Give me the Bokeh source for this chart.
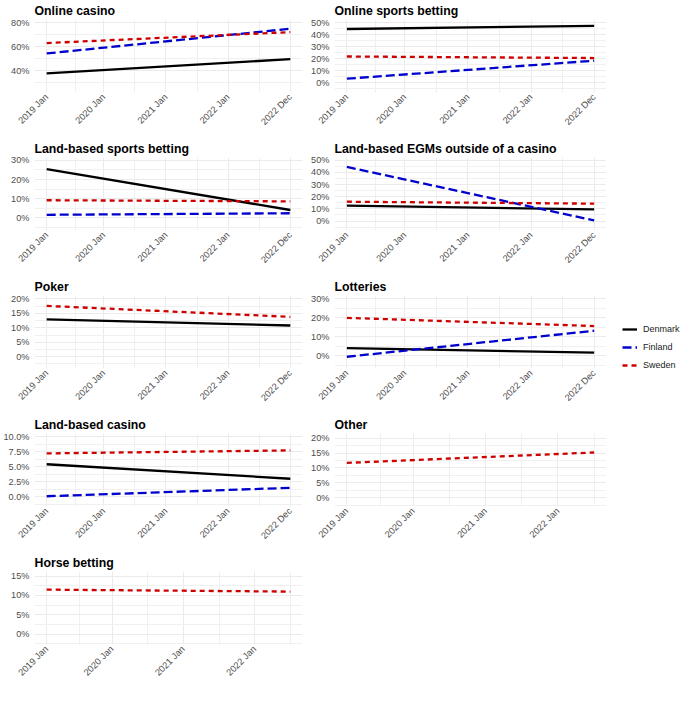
import math
from bokeh.plotting import figure
from bokeh.layouts import row, column
from bokeh.models import (FixedTicker, Range1d, Legend, LegendItem, Spacer,
                          CustomJSTickFormatter)
from bokeh.embed import file_html
from bokeh.resources import INLINE

# ---------------- data ----------------
categories = ["Online casino", "Online sports betting", "Land-based sports betting",
              "Land-based EGMs outside of a casino", "Poker", "Lotteries",
              "Land-based casino", "Other", "Horse betting"]
countries = ["Denmark", "Finland", "Sweden"]

# x positions in months counted from 2019 Jan
start_month = [0, 0, 0, 0, 0, 0, 0, 0, 0]
end_month = [47, 47, 47, 47, 47, 47, 47, 41, 41]
tick_months = [0, 11, 23, 35, 47]
tick_labels = ["2019 Jan", "2020 Jan", "2021 Jan", "2022 Jan", "2022 Dec"]
minor_tick_months = [5.5, 17, 29, 41]

# shares in percent (None = no series in that panel)
denmark_start = [37.9, 44.8, 25.4, 12.7, 12.9, 4.0, 5.4, None, None]
denmark_end = [49.7, 47.4, 4.1, 9.6, 10.8, 1.7, 3.0, None, None]
finland_start = [54.4, 3.4, 1.6, 44.5, None, -0.5, 0.1, None, None]
finland_end = [75.0, 18.4, 2.4, 0.5, None, 13.2, 1.5, None, None]
sweden_start = [63.1, 21.9, 9.2, 15.9, 17.6, 20.0, 7.2, 11.7, 11.5]
sweden_end = [72.2, 20.6, 8.6, 14.3, 13.8, 15.7, 7.7, 15.2, 11.0]

y_major_ticks = [[40, 60, 80], [0, 10, 20, 30, 40, 50], [0, 10, 20, 30],
                 [0, 10, 20, 30, 40, 50], [0, 5, 10, 15, 20], [0, 10, 20, 30],
                 [0, 2.5, 5, 7.5, 10], [0, 5, 10, 15, 20], [0, 5, 10, 15]]
y_tick_decimals = [0, 0, 0, 0, 0, 0, 1, 0, 0]
y_min = [21.9, -8.1, -6.6, -7.8, -4.1, -6.7, -1.6, -3.0, -2.7]
y_max = [82.7, 52.7, 31.5, 52.3, 21.2, 31.8, 10.5, 21.6, 16.2]

series = {
    "Denmark": (denmark_start, denmark_end),
    "Finland": (finland_start, finland_end),
    "Sweden": (sweden_start, sweden_end),
}

# ---------------- style ----------------
FONT = "Liberation Sans"
styles = {
    "Denmark": dict(line_color="black", line_dash="solid"),
    "Finland": dict(line_color="#0000CD", line_dash="9 4"),
    "Sweden": dict(line_color="#CD0000", line_dash="5 4"),
}
LW = 2.3
FRAME_W, FRAME_H, TOP_B = 272, 75, 17
LEFT_B_L, RIGHT_B_L, LEFT_B_R = 30, 3, 29


def minor_from(major, lo, hi):
    step = major[1] - major[0]
    out = [major[0] - step / 2] + [(a + b) / 2 for a, b in zip(major[:-1], major[1:])] + [major[-1] + step / 2]
    return [m for m in out if lo <= m <= hi]


def make_panel(i, left_b, right_b, bottom_b):
    x0, x1 = start_month[i], end_month[i]
    pad = 0.05 * (x1 - x0)
    p = figure(width=left_b + FRAME_W + right_b, height=TOP_B + FRAME_H + bottom_b,
               x_range=Range1d(x0 - pad, x1 + pad), y_range=Range1d(y_min[i], y_max[i]),
               output_backend="svg", toolbar_location=None, title=categories[i],
               min_border_left=left_b, min_border_right=right_b,
               min_border_top=TOP_B, min_border_bottom=bottom_b)
    p.background_fill_color = "white"
    p.border_fill_color = "white"
    p.outline_line_color = None
    p.title.text_font = FONT
    p.title.text_font_size = "12.3px"
    p.title.text_font_style = "bold"
    p.title.text_color = "black"
    p.title.align = "left"
    p.title.offset = 0
    p.title.standoff = 3

    xt = [t for t in tick_months if t <= x1]
    xl = {t: l for t, l in zip(tick_months, tick_labels) if t <= x1}
    p.xaxis.ticker = FixedTicker(ticks=xt, minor_ticks=[m for m in minor_tick_months if m <= x1 + pad])
    p.xaxis.major_label_overrides = xl
    p.xaxis.major_label_orientation = math.pi / 4

    yt = y_major_ticks[i]
    p.yaxis.ticker = FixedTicker(ticks=yt, minor_ticks=minor_from(yt, y_min[i], y_max[i]))
    p.yaxis.formatter = CustomJSTickFormatter(code="return tick.toFixed(%d) + '%%';" % y_tick_decimals[i])

    for ax in (p.xaxis[0], p.yaxis[0]):
        ax.axis_line_color = None
        ax.major_tick_line_color = None
        ax.minor_tick_line_color = None
        ax.major_tick_in = 0
        ax.major_tick_out = 0
        ax.minor_tick_in = 0
        ax.minor_tick_out = 0
        ax.major_label_text_font = FONT
        ax.major_label_text_font_size = "9.2px"
        ax.major_label_text_color = "#4D4D4D"
    p.yaxis.major_label_standoff = 5
    p.xaxis.major_label_standoff = 3

    for g in (p.xgrid[0], p.ygrid[0]):
        g.grid_line_color = "#EBEBEB"
        g.grid_line_width = 1
        g.minor_grid_line_color = "#F0F0F0"
        g.minor_grid_line_width = 1

    for c in countries:
        s, e = series[c]
        if s[i] is None:
            continue
        p.line(x=[x0, x1], y=[s[i], e[i]], line_width=LW, **styles[c])
    return p


panels = []
for i in range(len(categories)):
    left_col = (i % 2 == 0)
    bottom_b = 40 if i == 8 else 46
    if left_col:
        panels.append(make_panel(i, LEFT_B_L, RIGHT_B_L, bottom_b))
    else:
        panels.append(make_panel(i, LEFT_B_R, 0, bottom_b))

left_w = LEFT_B_L + FRAME_W + RIGHT_B_L
right_w = LEFT_B_R + FRAME_W + 0
total_h = 4 * (TOP_B + FRAME_H + 46) + (TOP_B + FRAME_H + 40)

# legend figure (its key lines lie outside its visible range; only the legend shows)
leg = figure(width=684 - left_w - right_w, height=total_h, x_range=Range1d(0, 1),
             y_range=Range1d(0, 1), output_backend="svg", toolbar_location=None,
             min_border=0, min_border_left=0, min_border_right=0,
             min_border_top=0, min_border_bottom=0)
leg.axis.visible = False
leg.grid.visible = False
leg.outline_line_color = None
leg.background_fill_color = "white"
leg.border_fill_color = "white"
items = []
for c in countries:
    r = leg.line(x=[5, 6], y=[5, 6], line_width=LW, **styles[c])
    items.append(LegendItem(label=c, renderers=[r]))
legend = Legend(items=items, location=(16, 310), orientation="vertical",
                border_line_color=None, background_fill_alpha=0, padding=0, margin=0,
                spacing=0, glyph_width=15, glyph_height=18, label_height=18,
                label_standoff=6, label_text_font=FONT, label_text_font_size="9px",
                label_text_color="#1A1A1A")
leg.add_layout(legend)

left_column = column(panels[0], panels[2], panels[4], panels[6], panels[8])
right_column = column(panels[1], panels[3], panels[5], panels[7],
                      Spacer(width=right_w, height=TOP_B + FRAME_H + 40))
layout = row(left_column, right_column, leg)

open("out.html", "w").write(file_html(layout, INLINE))
